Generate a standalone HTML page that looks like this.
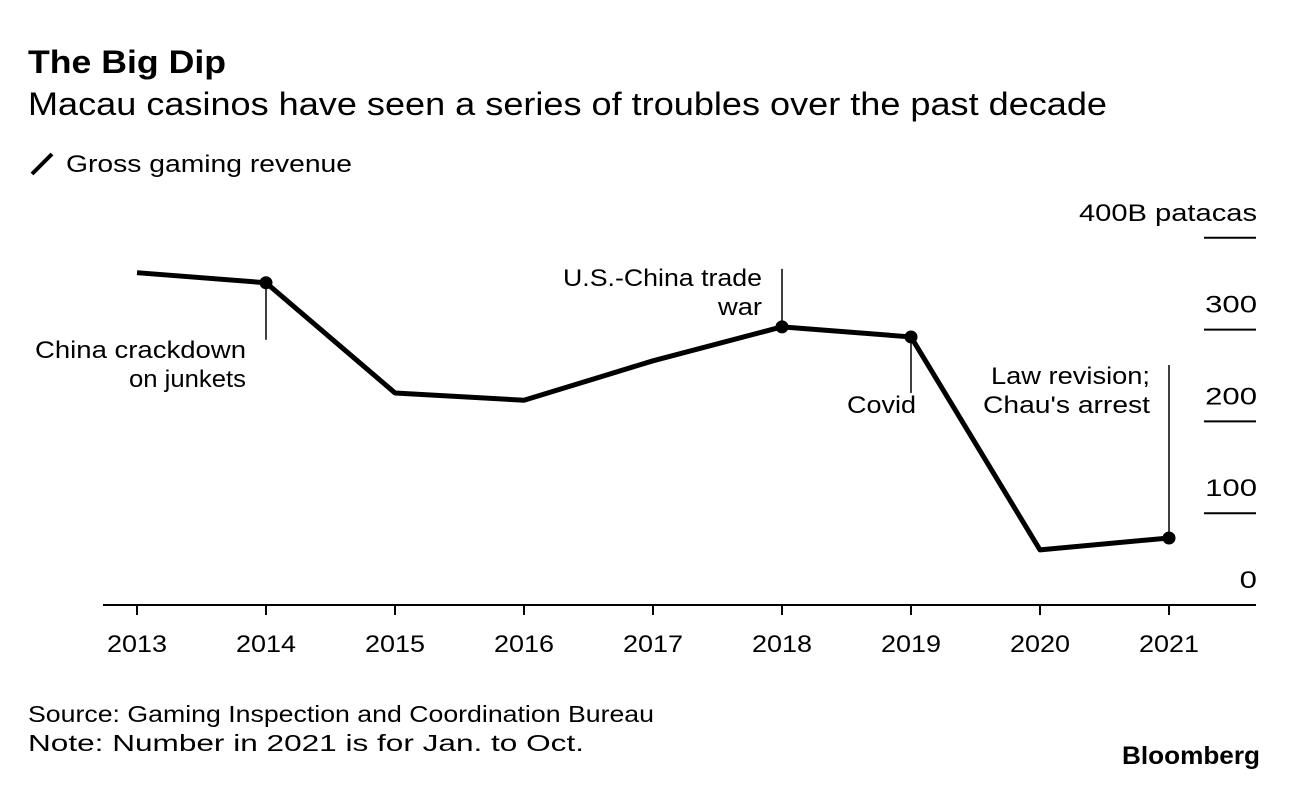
<!DOCTYPE html>
<html><head><meta charset="utf-8"><style>
body{margin:0;background:#fff;width:1289px;height:782px;overflow:hidden;font-family:"Liberation Sans",sans-serif;color:#000}
svg text{font-family:"Liberation Sans",sans-serif}
</style></head><body>
<svg width="1289" height="782">
<text x="28" y="73" font-size="32" font-weight="bold" textLength="198" lengthAdjust="spacingAndGlyphs">The Big Dip</text>
<text x="28" y="115" font-size="32" textLength="1079" lengthAdjust="spacingAndGlyphs">Macau casinos have seen a series of troubles over the past decade</text>
<line x1="32" y1="174" x2="52" y2="154" stroke="#000" stroke-width="4"/>
<text x="66" y="172" font-size="24" textLength="286" lengthAdjust="spacingAndGlyphs">Gross gaming revenue</text>
<g id="yaxis"></g>
<g id="xaxis"></g>
<g id="annots"></g>
<g id="series"></g>
<text x="28" y="722" font-size="23" textLength="626" lengthAdjust="spacingAndGlyphs">Source: Gaming Inspection and Coordination Bureau</text>
<text x="28" y="751" font-size="23" textLength="556" lengthAdjust="spacingAndGlyphs">Note: Number in 2021 is for Jan. to Oct.</text>
<text x="1122" y="764" font-size="25" font-weight="bold" textLength="138" lengthAdjust="spacingAndGlyphs">Bloomberg</text>
</svg>
<script>
const years=[2013,2014,2015,2016,2017,2018,2019,2020,2021];
const revenue=[362,351,231,223,266,303,292,60,73];
const yTicks=[0,100,200,300,400];
const yTickLabels=["0","100","200","300","400B patacas"];
const markedYears=[2014,2018,2019,2021];
const annotYears=[2014,2018,2019,2021];
const annotLines=[["China crackdown","on junkets"],["U.S.-China trade","war"],["Covid"],["Law revision;","Chau's arrest"]];

const NS="http://www.w3.org/2000/svg";
const x=v=>137+(v-2013)*129;
const y=v=>605-v*0.918;
function mk(tag,attrs,parent){const e=document.createElementNS(NS,tag);for(const k in attrs)e.setAttribute(k,attrs[k]);parent.appendChild(e);return e;}
const ya=document.getElementById('yaxis'),xa=document.getElementById('xaxis'),an=document.getElementById('annots'),se=document.getElementById('series');
yTicks.forEach((t,i)=>{
  if(t>0){const l=mk('line',{x1:1204,x2:1256,y1:y(t),y2:y(t),stroke:'#000','stroke-width':2},ya);
  
  }
  const lbl=yTickLabels[i];
  const w=lbl.length>4?178:lbl.length*17.3;
  const tx=mk('text',{x:1257-w,y:y(t)-17,'font-size':24,textLength:w,lengthAdjust:'spacingAndGlyphs'},ya);
  tx.textContent=lbl;
  
  
});
const base=mk('line',{x1:103,x2:1256,y1:605,y2:605,stroke:'#000','stroke-width':2},xa);


years.forEach(yr=>{
  const t=mk('line',{x1:x(yr),x2:x(yr),y1:605,y2:615,stroke:'#000','stroke-width':2},xa);
  
  
  const tx=mk('text',{x:x(yr)-30,y:652,'font-size':24,textLength:60,lengthAdjust:'spacingAndGlyphs'},xa);
  tx.textContent=yr;
  
  
});
const val=yr=>revenue[years.indexOf(yr)];
const specs=[
 {dir:1,len:57,right:246,ty:358,widths:[211,117]},
 {dir:-1,len:58,right:762,ty:286,widths:[199,44]},
 {dir:1,len:56,right:916,ty:413,widths:[69]},
 {dir:-1,len:173,right:1150,ty:384,widths:[159,167]}];
annotYears.forEach((yr,i)=>{
  const s=specs[i],cx=x(yr),cy=y(val(yr));
  const l=mk('line',{x1:cx,x2:cx,y1:cy,y2:cy+s.dir*s.len,stroke:'#000','stroke-width':1.5},an);
  
  
  annotLines[i].forEach((ln,j)=>{
    const w=s.widths[j];
    const t=mk('text',{'font-size':24,x:s.right-w,y:s.ty+j*29,textLength:w,lengthAdjust:'spacingAndGlyphs'},an);
    t.textContent=ln;
    
    
  });
});
const p=mk('polyline',{points:years.map((yr,i)=>x(yr)+','+y(revenue[i])).join(' '),fill:'none',stroke:'#000','stroke-width':5,'stroke-linejoin':'round'},se);


markedYears.forEach(yr=>{
  const c=mk('circle',{cx:x(yr),cy:y(val(yr)),r:6.5,fill:'#000'},se);
  
  
});
</script>
</body></html>
